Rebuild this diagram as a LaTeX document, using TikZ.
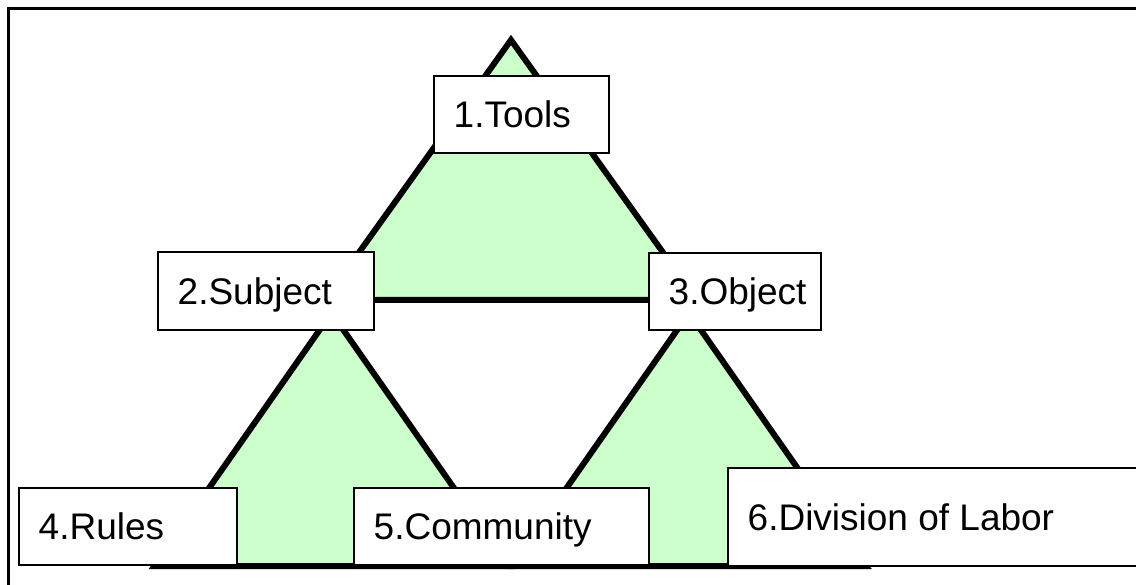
\documentclass[tikz,border=0pt]{standalone}
\usepackage{fontspec}
\setmainfont{Liberation Sans}
\usetikzlibrary{calc}
\definecolor{leaf}{HTML}{CCFFCC}
\begin{document}
\begin{tikzpicture}[x=1pt,y=-1pt,
  tri/.style={fill=leaf,draw=black,line width=6pt,line join=miter,miter limit=10},
  box/.style={draw=black,fill=white,line width=1.6pt,rectangle,inner sep=0pt,anchor=north west},
  lbl/.style={inner sep=0pt,anchor=base west,font=\fontsize{37}{44}\selectfont}]
\useasboundingbox (0,0) rectangle (1136,585);
\begin{scope}
\clip (0,0) rectangle (1136,585);

% frame
\draw[line width=2.2pt] (8.5,8.5) rectangle (1160,610);

% triangle corners
\coordinate (tA) at (511,40);
\coordinate (tL) at (325,300);
\coordinate (tR) at (697,300);
\coordinate (lA) at (331.5,313);
\coordinate (lL) at (154.5,566);
\coordinate (lR) at (508.5,566);
\coordinate (rA) at (689,313);
\coordinate (rL) at (512,566);
\coordinate (rR) at (866,566);

\draw[tri] (tA) -- (tR) -- (tL) -- cycle;
\draw[tri] (lA) -- (lR) -- (lL) -- cycle;
\draw[tri] (rA) -- (rR) -- (rL) -- cycle;

% boxes
\node[box,minimum width=175pt,minimum height=77pt] (b1) at (433,75) {};
\node[box,minimum width=216pt,minimum height=78pt] (b2) at (157,251) {};
\node[box,minimum width=172pt,minimum height=77pt] (b3) at (648,252) {};
\node[box,minimum width=218pt,minimum height=77pt] (b4) at (18,487) {};
\node[box,minimum width=295pt,minimum height=77pt] (b5) at (353,487) {};
\node[box,minimum width=440pt,minimum height=98pt] (b6) at (727,467) {};

% labels
\node[lbl] (t1) at ($(b1.west)+(20.5,13.3)$) {1.Tools};
\node[lbl] (t2) at ($(b2.west)+(20.5,13.3)$) {2.Subject};
\node[lbl] (t3) at ($(b3.west)+(20.5,13.3)$) {3.Object};
\node[lbl] (t4) at ($(b4.west)+(20.5,13.3)$) {4.Rules};
\node[lbl] (t5) at ($(b5.west)+(20.5,13.3)$) {5.Community};
\node[lbl] (t6) at ($(b6.west)+(20.5,13.3)$) {6.Division of Labor};
\end{scope}
\end{tikzpicture}
\end{document}
